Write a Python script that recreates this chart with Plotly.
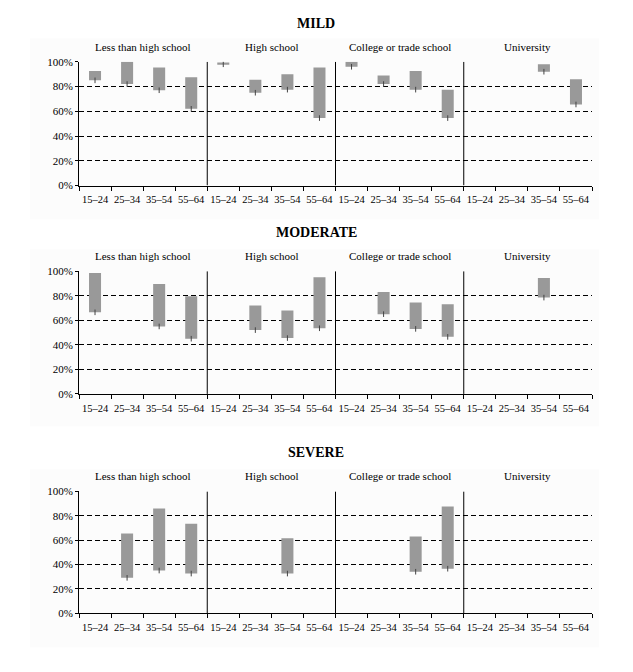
import plotly.graph_objects as go

ages = ["15–24", "25–34", "35–54", "55–64"]
groups = ["Less than high school", "High school", "College or trade school", "University"]
panels = ["MILD", "MODERATE", "SEVERE"]
pct_vals = [0, 20, 40, 60, 80, 100]
pct_text = ["0%", "20%", "40%", "60%", "80%", "100%"]

# low / high ends of each range, 4 ages per education group, None = no bar
mild_low = [85, 82, 77, 62, 98, 75, 77.5, 54.5, 96, 82, 77.5, 54.5, None, None, 92, 65.5]
mild_high = [92.5, 100, 95.5, 87.5, 99.5, 85.5, 90, 95.5, 100, 89, 92.5, 77.5, None, None, 98, 86]

moderate_low = [66.5, None, 55, 45, None, 52, 45.5, 53.5, None, 65, 53, 46.5, None, None, 78.5, None]
moderate_high = [98.5, None, 89.5, 79.5, None, 72, 68, 95, None, 83, 74.5, 73, None, None, 94.5, None]

severe_low = [None, 29, 35, 32.5, None, None, 32.5, None, None, None, 34, 36.5, None, None, None, None]
severe_high = [None, 65.5, 86, 73.5, None, None, 61.5, None, None, None, 63, 87.5, None, None, None, None]

lows = [mild_low, moderate_low, severe_low]
highs = [mild_high, moderate_high, severe_high]

# page has an 8px body margin, so the figure is drawn 8px in and made smaller
PAD = 8
W, H = 633 - 2 * PAD, 672 - 2 * PAD
FONT = "Liberation Serif"


def px_x(p):
    return (p - PAD) / W


def px_y(p):
    return 1 - (p - PAD) / H


# page pixel rows: (100% line, 0% line), title centre, shaded box
rows = [(56.7, 182.7), (270, 395), (494.3, 618.3)]
title_y = [8, 231, 455]
shade = [(33, 217), (248, 428), (472, 653)]

centers = [i + 0.5 for i in range(16)]
ticktext = ages * 4

fig = go.Figure()
layout = dict(width=W, height=H, margin=dict(l=0, r=0, t=0, b=0),
              paper_bgcolor="white", plot_bgcolor="rgba(0,0,0,0)",
              showlegend=False, font=dict(family=FONT, color="black"),
              shapes=[], annotations=[])

for r in range(3):
    n = "" if r == 0 else str(r + 1)
    lo, hi = lows[r], highs[r]

    fig.add_trace(go.Scatter(
        x=centers, y=lo, mode="markers", xaxis="x" + n, yaxis="y" + n,
        marker=dict(symbol="line-ns", size=4, line=dict(width=1, color="#444444")),
        hoverinfo="skip"))
    fig.add_trace(go.Bar(
        x=centers,
        y=[None if a is None else b - a for a, b in zip(lo, hi)],
        base=lo, width=0.375, marker=dict(color="#999999", line=dict(width=0)),
        xaxis="x" + n, yaxis="y" + n))

    top, bot = rows[r]
    layout["xaxis" + n] = dict(
        domain=[px_x(79), px_x(592)], range=[0, 16], anchor="y" + n,
        tickmode="array", tickvals=centers, ticktext=ticktext,
        ticks="outside", ticklen=4, tickcolor="rgba(0,0,0,0)",
        minor=dict(tickmode="linear", tick0=0, dtick=1, ticks="outside",
                   ticklen=4, tickcolor="black", tickwidth=1),
        tickfont=dict(size=10.5), showgrid=False, zeroline=False,
        showline=True, linecolor="black", linewidth=1, fixedrange=True)
    layout["yaxis" + n] = dict(
        domain=[px_y(bot), px_y(top)], range=[0, 100], anchor="x" + n,
        tickmode="array", tickvals=pct_vals, ticktext=pct_text,
        ticks="outside", ticklen=3, tickcolor="black",
        tickfont=dict(size=11), showgrid=True, gridcolor="black",
        gridwidth=1, griddash="5px,3px", zeroline=False,
        showline=True, linecolor="black", linewidth=1, fixedrange=True)

    s0, s1 = shade[r]
    layout["shapes"].append(dict(
        type="rect", xref="paper", yref="paper", layer="below",
        x0=px_x(30), x1=px_x(599), y0=px_y(s1), y1=px_y(s0),
        fillcolor="#fcfcfc", line=dict(width=0)))
    for b in [4, 8, 12]:
        layout["shapes"].append(dict(
            type="line", xref="x" + n, yref="y" + n, x0=b, x1=b, y0=0, y1=100,
            line=dict(color="black", width=1)))

    for g, name in enumerate(groups):
        layout["annotations"].append(dict(
            text=name, xref="x" + n, yref="y" + n + " domain", x=g * 4 + 2, y=1,
            yanchor="middle", yshift=15, showarrow=False, font=dict(size=11)))

    # the top title cannot sit above the figure edge, so hang it from there
    ty = min(px_y(title_y[r]), 1.0)
    layout["annotations"].append(dict(
        text="<b>" + panels[r] + "</b>", xref="paper", yref="paper",
        x=px_x(316), y=ty, yanchor="top" if r == 0 else "middle",
        showarrow=False, font=dict(size=14)))

fig.update_layout(**layout)
fig.write_html("out.html")
